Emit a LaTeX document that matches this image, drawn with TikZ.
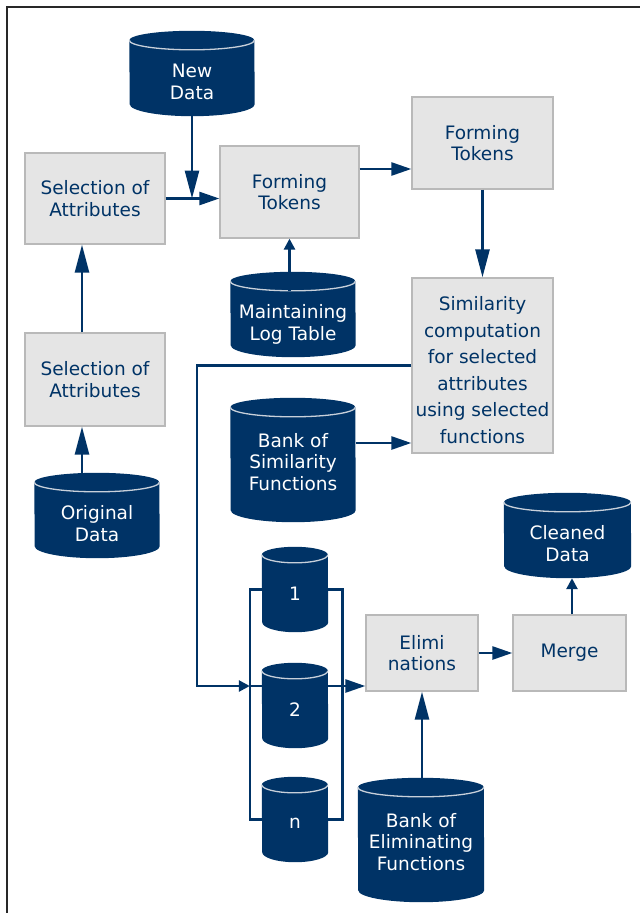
\documentclass[tikz,border=0pt]{standalone}
\usepackage{fontspec}
\setmainfont{DejaVu Sans}
\usepackage{xcolor}
\definecolor{navyblue}{RGB}{0,51,102}
\definecolor{boxgray}{RGB}{229,229,229}
\definecolor{edgegray}{RGB}{185,185,185}
\definecolor{capgray}{RGB}{200,208,218}
\definecolor{framegray}{RGB}{40,40,40}
\usetikzlibrary{positioning,arrows.meta,calc,backgrounds}
\tikzset{
  procbox/.style={rectangle,draw=edgegray,line width=1.3pt,fill=boxgray,
    text=navyblue,align=center,font=\fontsize{18.5}{21.5}\selectfont,
    minimum width=140pt,minimum height=91pt,inner sep=2pt},
  dbase/.style={rectangle,text=white,align=center,font=\fontsize{18.5}{21.5}\selectfont,
    minimum width=125pt,minimum height=68.5pt,inner sep=0pt},
  dsmall/.style={dbase,minimum width=66pt,minimum height=77pt},
  capline/.style={draw=capgray,line width=1.3pt},
  wire/.style={draw=navyblue,line width=2.6pt},
  fl/.style={wire,-{Triangle[length=20pt,width=13pt]}},
  flong/.style={wire,-{Triangle[length=28pt,width=14pt]}},
  fshort/.style={wire,-{Triangle[length=11pt,width=11pt]}},
}
\begin{document}
\begin{tikzpicture}[x=1pt,y=-1pt]
  \useasboundingbox (0,0) rectangle (640,913);
  \draw[framegray,line width=2pt] (7,913) -- (7,7) -- (640,7);
  % process boxes
  \node[procbox] (sel1) at (95,198.5) {Selection of\\Attributes};
  \node[procbox,minimum width=139pt,minimum height=92pt] (ft1) at (289.5,192) {Forming\\Tokens};
  \node[procbox,minimum width=141pt,minimum height=92pt] (ft2) at (482.5,143) {Forming\\Tokens};
  \node[procbox,minimum width=141pt,minimum height=175pt,
        font=\fontsize{18.5}{26.5}\selectfont] (sim) at (482.5,365.5)
      {\rule{0pt}{23pt}Similarity\\computation\\for selected\\attributes\\using selected\\functions};
  \node[procbox,minimum height=93pt] (sel2) at (95,379.5) {Selection of\\Attributes};
  \node[procbox,minimum width=112pt,minimum height=76pt] (elim) at (422,653) {Elimi\\nations};
  \node[procbox,minimum width=113pt,minimum height=76pt] (merge) at (569.5,653) {Merge};
  % data stores (text area only, drums drawn below)
  \node[dbase] (nd) at (192,81.75) {New\\Data};
  \node[dbase,minimum height=65.5pt] (lt) at (293,324.25) {Maintaining\\Log Table};
  \node[dbase,minimum height=120.5pt] (bs) at (293,461.75) {Bank of\\Similarity\\Functions};
  \node[dbase] (od) at (97,523.75) {Original\\Data};
  \node[dbase,minimum width=127pt] (cd) at (567.5,543.75) {Cleaned\\Data};
  \node[dbase,minimum width=126pt,minimum height=120.5pt] (be) at (421,841.75) {Bank of\\Eliminating\\Functions};
  \node[dsmall] (c1) at (295,593.5) {1};
  \node[dsmall] (c2) at (295,709.5) {2};
  \node[dsmall] (cn) at (295,823.5) {n};
  % connectors
  \coordinate (brl) at ([xshift=-12pt,yshift=4pt]c1.west);
  \coordinate (brr) at ([xshift=14pt,yshift=4pt]c1.east);
  \coordinate (bend) at (197,686);
  \begin{scope}[on background layer]
    \draw[wire] (bend -| brl) -- (bend -| brr);
    \foreach \c/\w/\t/\b/\o in {nd/62.5/9.5/12/7,lt/62.5/9.5/12/10,bs/62.5/9.5/12/-6,
        od/62.5/9.5/12/7,cd/63.5/9.5/12/7,be/63/9.5/12/-6,
        c1/33/8/10/0,c2/33/8/10/0,cn/33/8/10/0}{
      \fill[navyblue] ([yshift=\o pt]\c.north west)
        arc[start angle=180,end angle=0,x radius=\w pt,y radius=\t pt]
        -- ([yshift=\b pt]\c.south east)
        arc[start angle=0,end angle=-180,x radius=\w pt,y radius=\b pt] -- cycle;
      \draw[capline] ([yshift=\o pt]\c.north west)
        arc[start angle=180,end angle=360,x radius=\w pt,y radius=\t pt];
    }
  \end{scope}
  \draw[wire] (brl -| c1.west) -- (brl) |- ([yshift=4pt]cn.west);
  \draw[wire] (brr -| c1.east) -- (brr) |- ([yshift=4pt]cn.east);
  \draw[flong] (nd.south) -- (nd.south |- sel1.east);
  \draw[fl] (sel1.east) -- (ft1.west |- sel1.east);
  \draw[fl] ([yshift=23pt]ft1.east) -- ([yshift=23pt]ft1.east -| ft2.west);
  \draw[flong] (ft2.south) -- (sim.north);
  \draw[fshort] (lt.north -| ft1.south) -- (ft1.south);
  \draw[flong] ([xshift=-13pt]sel2.north) -- ([xshift=-13pt]sel1.south);
  \draw[flong] ([xshift=-13pt]sel2.south |- od.north) -- ([xshift=-13pt]sel2.south);
  \draw[fl] ([yshift=18.75pt]bs.east) -- ([yshift=18.75pt]bs.east -| sim.west);
  \draw[fshort] (sim.west) -| (bend) -- (bend -| brl);
  \draw[fl] (bend -| brr) -- (bend -| elim.west);
  \draw[fl] (elim) -- (merge);
  \draw[fshort] ([xshift=2.5pt]merge.north) -- ([xshift=2.5pt]merge.north |- cd.south);
  \draw[flong] (be.north -| elim.south) -- (elim.south);
\end{tikzpicture}
\end{document}
